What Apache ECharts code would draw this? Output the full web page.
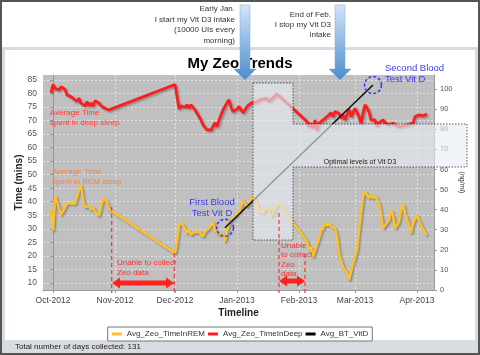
<!DOCTYPE html>
<html>
<head>
<meta charset="utf-8">
<title>My Zeo Trends</title>
<script src="https://cdn.jsdelivr.net/npm/echarts@6/dist/echarts.min.js"></script>
<style>
  body { margin: 0; }
  #frame { position: absolute; left: 0; top: 0; width: 480px; height: 355px; box-sizing: border-box; border: 2px solid #555; background: #d8dce1; }
  #topArea { position: absolute; left: 2px; top: 2px; width: 476px; height: 45px; background: #fff; }
  #panel { position: absolute; left: 5px; top: 50px; width: 470px; height: 290px; background: #fff; }
  #chart { position: absolute; left: 0; top: 0; width: 480px; height: 355px; }
</style>
</head>
<body>
<div id="frame"></div>
<div id="topArea"></div>
<div id="panel"></div>
<div id="chart"></div>
<script>
// x values are days counted from 1 Oct 2012
const monthTicks = [0, 31, 61, 92, 123, 151, 182];
const monthLabels = ['Oct-2012', 'Nov-2012', 'Dec-2012', 'Jan-2013', 'Feb-2013', 'Mar-2013', 'Apr-2013'];
const minsTicks = [10, 15, 20, 25, 30, 35, 40, 45, 50, 55, 60, 65, 70, 75, 80, 85];
const vitdTicks = [0, 10, 20, 30, 40, 50, 60, 70, 80, 90, 100];

// Avg_Zeo_TimeInDeep
const deepDays = [-1, 0, 1, 2, 3, 4, 6, 7, 9, 10, 12, 13, 14, 16, 17, 18, 19, 20, 21, 23, 24, 26, 28, 29,
  61, 63, 64, 65, 66, 67, 68, 69, 71, 72, 73, 74, 75, 77, 78, 79, 80, 81, 82, 83, 84, 85, 87, 88,
  89, 90, 92, 93, 94, 95, 97, 98, 99, 100, 102, 103, 104, 105, 107, 108, 109, 112, 113,
  127, 128, 129, 130, 131, 132, 133, 134, 136, 138, 139, 140, 141, 143, 144, 145, 146, 148, 149, 150,
  151, 152, 153, 154, 155, 156, 158, 159, 160, 161, 162, 163, 164, 165, 166, 168, 169, 170, 171, 173,
  174, 175, 177, 178, 180, 181, 183, 184, 185, 187];
const deepMins = [80.3, 83.3, 81.9, 82.0, 81.3, 82.5, 81.5, 79.4, 78.8, 78.2, 77.0, 78.2, 76.4, 75.4, 77.0, 75.4, 76.4, 75.4, 77.3, 76.4, 75.4, 74.5, 73.9, 74.2,
  83.3, 74.2, 75.4, 76.1, 74.9, 75.8, 74.5, 75.8, 73.9, 72.7, 71.4, 70.2, 68.4, 66.5, 66.3, 66.5, 65.9, 69.2, 67.7, 70.2, 69.6, 73.9, 76.6, 77.6,
  74.9, 73.3, 74.2, 75.2, 75.4, 72.9, 75.2, 74.5, 76.4, 76.6, 77.0, 76.4, 77.9, 77.3, 78.2, 77.0, 77.6, 79.8, 79.4,
  69.6, 67.7, 69.0, 67.1, 70.2, 66.3, 69.0, 69.6, 70.8, 72.1, 72.9, 71.4, 73.3, 72.7, 70.8, 72.1, 70.2, 74.2, 71.4, 72.1,
  74.5, 74.9, 71.4, 69.0, 72.7, 75.8, 73.3, 70.2, 70.8, 70.2, 67.7, 69.2, 69.0, 70.2, 69.2, 68.4, 69.0, 69.0, 68.4, 67.7,
  68.4, 68.0, 68.4, 68.7, 69.0, 71.4, 72.1, 71.4, 71.7, 72.4];

// Avg_Zeo_TimeInREM
const remDays = [-1, 0, 1, 2, 3, 4, 5, 7, 9, 11, 12, 13, 14, 15, 16, 18, 19, 20, 21, 23, 24, 25, 27, 28, 29,
  61, 62, 63, 64, 65, 67, 68, 69, 70, 71, 73, 74, 75, 76, 77, 78, 80, 81, 82, 83, 85, 86, 87, 88, 89,
  91, 93, 94, 95, 97, 98, 99, 100, 102, 103, 104, 105, 106, 108, 109, 110, 111, 113,
  127, 128, 129, 130, 131, 133, 134, 135, 136, 137, 138, 139, 141, 142, 143, 145, 146, 147, 148, 149, 150,
  152, 153, 154, 155, 156, 158, 159, 160, 161, 163, 164, 165, 166, 168, 169, 170, 171, 173, 174, 175,
  176, 178, 179, 180, 182, 183, 184, 186, 187];
const remMins = [37.2, 29.3, 42.1, 40.0, 39.7, 35.1, 35.5, 39.4, 39.4, 39.2, 39.4, 44.4, 46.2, 40.7, 38.0, 38.4, 37.2, 38.0, 36.3, 34.8, 38.2, 41.3, 40.0, 37.2, 37.6,
  21.0, 25.3, 31.4, 32.3, 31.4, 28.4, 29.8, 27.7, 28.6, 28.1, 29.0, 28.1, 27.1, 29.0, 29.3, 30.2, 32.6, 29.6, 28.4, 27.7, 27.4, 25.3, 29.0, 32.1, 33.3,
  34.5, 36.3, 38.2, 40.4, 38.2, 39.4, 40.0, 41.9, 39.4, 35.7, 37.0, 35.5, 37.6, 37.2, 34.5, 35.7, 37.6, 39.4,
  25.3, 22.2, 23.2, 19.5, 22.2, 26.5, 29.3, 30.2, 32.1, 31.1, 32.1, 30.8, 30.2, 27.1, 21.0, 15.8, 14.8, 13.6, 11.1, 14.2, 17.3,
  22.2, 29.6, 35.7, 41.9, 43.7, 41.3, 42.5, 41.3, 42.1, 39.4, 35.7, 30.2, 29.6, 33.3, 37.0, 35.1, 30.2, 32.6, 37.0, 39.2,
  35.7, 31.4, 28.4, 32.1, 35.1, 34.5, 31.4, 28.4, 27.7];

// Avg_BT_VitD (ng/ml), the two blood tests
const vitdDays = [86, 160];
const vitdLevels = [31, 102];

const FONT = '"Liberation Sans", Arial, sans-serif';

function pairs(xs, ys) {
  return xs.map((x, i) => [x, ys[i]]);
}

function redArrow(x1, x2, y) {
  return {
    type: 'polygon', z: 110,
    shape: { points: [[x1, y], [x1 + 8, y - 5.5], [x1 + 8, y - 2.5], [x2 - 8, y - 2.5], [x2 - 8, y - 5.5], [x2, y],
      [x2 - 8, y + 5.5], [x2 - 8, y + 2.5], [x1 + 8, y + 2.5], [x1 + 8, y + 5.5]] },
    style: { fill: '#ff2020' }
  };
}

function redDash(x, y1, y2) {
  return {
    type: 'line', z: 110,
    shape: { x1: x, y1: y1, x2: x, y2: y2 },
    style: { stroke: '#ff3030', lineWidth: 1.2, lineDash: [4, 3] }
  };
}

function blueArrow(cx) {
  return {
    type: 'polygon', z: 120,
    shape: { points: [[cx - 5, 5], [cx + 5, 5], [cx + 5, 69], [cx + 11, 69], [cx, 80], [cx - 11, 69], [cx - 5, 69]] },
    style: {
      fill: { type: 'linear', x: 0, y: 0, x2: 0, y2: 1,
        colorStops: [{ offset: 0, color: '#d4e5f8' }, { offset: 1, color: '#4a8cd0' }] },
      stroke: '#7aaede', lineWidth: 0.5
    }
  };
}

// text note; lh = line height
function note(text, x, y, size, color, align, lh) {
  return {
    type: 'text', z: 130,
    style: { text: text, x: x, y: y, fill: color, font: size + 'px ' + FONT,
      align: align || 'left', verticalAlign: 'middle', lineHeight: lh || size + 2 }
  };
}

const chart = echarts.init(document.getElementById('chart'), null, { renderer: 'canvas' });

const option = {
  animation: false,
  title: {
    text: 'My Zeo Trends',
    left: 'center',
    top: 51,
    textStyle: { fontFamily: FONT, fontSize: 15, fontWeight: 'bold', color: '#000' }
  },
  legend: {
    bottom: 14,
    left: 'center',
    icon: 'rect',
    itemWidth: 10,
    itemHeight: 3,
    itemGap: 3,
    padding: [3, 4],
    borderColor: '#777',
    borderWidth: 1,
    backgroundColor: '#fff',
    textStyle: { fontFamily: FONT, fontSize: 8, color: '#333' },
    data: ['Avg_Zeo_TimeInREM', 'Avg_Zeo_TimeInDeep', 'Avg_BT_VitD']
  },
  grid: {
    left: 43, right: 46, top: 75, bottom: 65,
    show: true, backgroundColor: '#c0c0c0', borderWidth: 0
  },
  xAxis: {
    type: 'value',
    min: -5,
    max: 190.5,
    name: 'Timeline',
    nameLocation: 'middle',
    nameGap: 18,
    nameMoveOverlap: false,
    nameTextStyle: { fontFamily: FONT, fontSize: 10, fontWeight: 'bold', color: '#222' },
    axisLine: { lineStyle: { color: '#999' } },
    axisTick: { customValues: monthTicks, length: 3, lineStyle: { color: '#999' } },
    axisLabel: {
      customValues: monthTicks,
      formatter: v => monthLabels[monthTicks.indexOf(v)],
      fontFamily: FONT, fontSize: 8.5, color: '#444', margin: 6
    },
    splitLine: { show: true, lineStyle: { color: '#e2e2e2', type: [2, 2] } }
  },
  yAxis: [
    {
      type: 'value',
      position: 'left',
      min: 7.4,
      max: 86.8,
      name: 'Time (mins)',
      nameLocation: 'middle',
      nameGap: 19,
      nameMoveOverlap: false,
      nameTextStyle: { fontFamily: FONT, fontSize: 10, fontWeight: 'bold', color: '#222' },
      axisLine: { show: true, lineStyle: { color: '#999' } },
      axisTick: { show: true, customValues: minsTicks, length: 3, lineStyle: { color: '#999' } },
      axisLabel: { customValues: minsTicks, fontFamily: FONT, fontSize: 8.5, color: '#555', margin: 6 },
      splitLine: { show: true, lineStyle: { color: '#e2e2e2', type: [2, 2] } }
    },
    {
      type: 'value',
      position: 'right',
      min: 0,
      max: 107,
      name: '(ng/ml)',
      nameLocation: 'middle',
      nameRotate: -90,
      nameGap: 24,
      nameMoveOverlap: false,
      nameTextStyle: { fontFamily: FONT, fontSize: 7, color: '#333' },
      axisLine: { show: true, lineStyle: { color: '#999' } },
      axisTick: { show: true, customValues: vitdTicks, length: 3, lineStyle: { color: '#999' } },
      axisLabel: { customValues: vitdTicks, fontFamily: FONT, fontSize: 7.5, color: '#555', margin: 6 },
      splitLine: { show: false }
    }
  ],
  series: [
    {
      name: 'Avg_Zeo_TimeInREM',
      type: 'line',
      yAxisIndex: 0,
      symbol: 'none',
      color: '#ffc125',
      lineStyle: { width: 2.4, color: '#ffc125', shadowColor: 'rgba(0,0,0,0.3)', shadowBlur: 2, shadowOffsetX: 1.5, shadowOffsetY: 1.5 },
      data: pairs(remDays, remMins)
    },
    {
      name: 'Avg_Zeo_TimeInDeep',
      type: 'line',
      yAxisIndex: 0,
      symbol: 'none',
      color: '#ff1c1c',
      lineStyle: { width: 2.8, color: '#ff1c1c', shadowColor: 'rgba(0,0,0,0.3)', shadowBlur: 2, shadowOffsetX: 1.5, shadowOffsetY: 1.5 },
      data: pairs(deepDays, deepMins)
    },
    {
      name: 'Avg_BT_VitD',
      type: 'line',
      yAxisIndex: 1,
      symbol: 'none',
      color: '#000',
      lineStyle: { width: 1.6, color: '#111' },
      data: pairs(vitdDays, vitdLevels),
      markPoint: {
        symbol: 'circle',
        symbolSize: 17,
        label: { show: false },
        itemStyle: { color: 'rgba(0,0,0,0)', borderColor: '#3434ff', borderWidth: 1.5, borderType: [3, 2] },
        data: [{ type: 'min' }, { type: 'max' }]
      }
    }
  ],
  graphic: [
    // Vit D3 intake period and optimal range
    {
      type: 'polygon', z: 100,
      shape: { points: [[253, 83], [293, 83], [293, 124], [467, 124], [467, 167], [293, 167], [293, 240], [253, 240]] },
      style: { fill: 'rgba(230,236,243,0.62)', stroke: '#333', lineWidth: 0.8, lineDash: [1.5, 1.5] }
    },
    note('Optimal levels of Vit D3', 360, 162, 7, '#222', 'center'),

    // gaps in Zeo data
    redDash(111.7, 207, 293),
    redDash(174.3, 253, 293),
    redDash(279, 213, 293),
    redDash(305, 254, 293),
    redArrow(112, 174, 283),
    redArrow(279, 305, 281),
    note('Unable to collect\nZeo data', 117, 268, 8, '#ff3030'),
    note('Unable\nto collect\nZeo\ndata', 281, 260, 8, '#ff3030', 'left', 9.5),

    // series notes
    note('Average Time\nspent in deep sleep', 50, 117.5, 8, '#ff3b3b'),
    note('Average Time\nspent in REM sleep', 52, 177, 8, '#ff7f3f'),

    // blood tests
    note('First Blood\nTest Vit D', 212, 208, 9.5, '#3a3af5', 'center', 11),
    note('Second Blood\nTest Vit D', 385, 74, 9.5, '#3a3af5', 'left', 11),

    // top notes with arrows
    blueArrow(245),
    blueArrow(340),
    note('Early Jan.\nI start my Vit D3 intake\n(10000 UIs every\nmorning)', 235, 25, 8, '#333', 'right', 10.5),
    note('End of Feb.\nI stop my Vit D3\nintake', 331, 25, 8, '#333', 'right', 10),

    note('Total number of days collected: 131', 15, 347, 8, '#222')
  ]
};

chart.setOption(option);
</script>
</body>
</html>
